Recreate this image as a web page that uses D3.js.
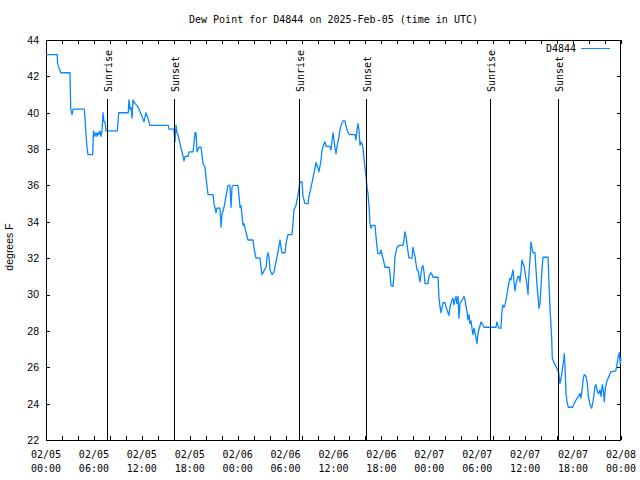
<!DOCTYPE html>
<html><head><meta charset="utf-8">
<script src="https://cdn.jsdelivr.net/npm/d3@7"></script>
<style>
body{margin:0;background:#fff;}
svg{display:block;}
</style></head>
<body>
<svg id="chart" width="640" height="480"></svg>
<script>
// ---- data (hours since 2025-02-05 00:00 UTC, dew point °F) ----
const titleText = "Dew Point for D4844 on 2025-Feb-05 (time in UTC)";
const yLabel = "degrees F";
const seriesName = "D4844";
const readings = [
[0.0,43.2],[1.41,43.2],[1.45,42.7],[1.84,42.2],[3.0,42.2],[3.1,40.2],[3.26,39.9],[3.4,40.2],[4.8,40.2],
[4.9,39.6],[5.0,38.8],[5.13,38.1],[5.26,37.7],[5.85,37.7],[5.95,39.0],[6.1,38.7],[6.26,38.9],[6.4,38.7],
[6.51,38.9],[6.64,38.8],[6.76,39.0],[6.89,38.7],[7.01,39.0],[7.14,40.0],[7.26,39.5],[7.4,39.5],[7.51,39.0],
[8.93,39.0],[9.02,39.5],[9.1,40.0],[10.3,40.0],[10.39,40.7],[10.52,40.2],[10.64,40.3],[10.77,39.7],[10.89,40.7],
[11.14,40.5],[11.39,40.4],[11.65,40.2],[11.77,40.05],[12.02,39.8],[12.27,39.5],[12.52,40.0],[12.77,39.7],[13.02,39.3],
[15.31,39.3],[15.4,39.1],[16.03,39.1],[16.15,38.4],[16.28,39.3],[16.4,38.9],[16.53,38.8],[16.78,38.3],[17.03,37.85],
[17.28,37.35],[17.41,37.6],[17.78,37.6],[17.91,37.85],[18.41,37.85],[18.53,38.3],[18.66,38.9],[18.78,38.9],[18.91,37.85],
[19.16,38.1],[19.41,38.1],[19.53,37.7],[19.66,37.2],[19.91,37.0],[20.04,36.4],[20.29,35.5],[20.91,35.5],[21.04,35.0],
[21.29,34.5],[21.41,34.75],[21.79,34.75],[21.91,33.7],[22.04,34.4],[22.29,34.8],[22.54,35.4],[22.79,36.0],[23.04,36.0],
[23.17,34.8],[23.29,35.9],[23.42,36.0],[24.04,36.0],[24.17,35.4],[24.29,34.8],[24.42,34.9],[24.54,34.4],[24.67,33.8],
[24.79,33.9],[25.04,33.45],[25.29,33.0],[25.92,33.0],[26.05,32.55],[26.3,32.0],[26.8,32.0],[26.92,31.5],[27.05,31.1],
[27.3,31.3],[27.55,31.5],[27.67,32.0],[27.8,32.3],[27.92,32.1],[28.05,31.35],[28.3,31.1],[28.55,31.25],[28.8,31.8],
[29.05,32.35],[29.18,32.7],[29.3,33.0],[29.43,32.6],[29.55,32.3],[29.93,32.3],[30.05,32.8],[30.3,33.3],[30.8,33.3],
[30.93,33.9],[31.05,34.65],[31.3,34.9],[31.43,35.2],[31.56,35.5],[31.68,35.85],[31.81,36.2],[32.06,36.2],[32.18,35.4],
[32.43,35.0],[32.81,35.0],[32.93,35.4],[33.18,35.9],[33.43,36.4],[33.68,36.95],[33.81,37.25],[34.06,36.95],[34.18,36.75],
[34.44,37.4],[34.56,37.95],[34.81,38.3],[34.94,38.4],[35.06,38.15],[35.56,38.15],[35.69,37.95],[35.94,38.9],[36.06,38.5],
[36.19,38.05],[36.31,37.75],[36.44,38.15],[36.69,38.7],[36.81,39.05],[36.94,39.3],[37.19,39.55],[37.44,39.55],[37.57,39.25],
[37.82,38.9],[38.07,38.8],[38.69,38.8],[38.82,38.5],[38.94,39.05],[39.07,39.4],[39.19,39.05],[39.32,38.2],[39.44,38.4],
[39.57,38.3],[39.69,38.05],[39.82,37.5],[39.94,36.95],[40.07,36.5],[40.2,35.9],[40.32,35.55],[40.45,34.85],[40.57,33.9],
[40.7,33.65],[40.82,33.8],[41.2,33.8],[41.32,33.2],[41.45,32.6],[41.57,32.25],[41.82,32.25],[41.95,32.45],[42.07,32.2],
[42.2,32.0],[42.45,31.5],[42.95,31.5],[43.08,31.15],[43.2,30.5],[43.45,30.45],[43.58,31.1],[43.7,32.1],[43.95,32.6],
[44.2,32.7],[44.7,32.7],[44.83,33.0],[44.95,33.45],[45.08,33.2],[45.2,32.8],[45.33,32.35],[45.45,32.0],[45.83,32.0],
[45.95,32.6],[46.08,32.3],[46.21,32.1],[46.33,31.7],[46.46,31.35],[46.58,31.35],[46.71,31.0],[46.83,30.7],[46.96,31.15],
[47.08,31.5],[47.2,31.6],[47.33,31.25],[47.46,30.6],[47.83,30.6],[47.96,31.0],[48.21,31.2],[48.33,31.1],[48.46,30.95],
[49.09,30.95],[49.21,29.8],[49.34,29.33],[49.46,29.0],[49.59,29.3],[49.71,29.55],[49.96,29.55],[50.09,29.3],[50.34,29.0],
[50.46,28.85],[50.59,29.33],[50.84,29.7],[50.96,29.8],[51.09,29.43],[51.21,29.7],[51.34,29.9],[51.46,29.5],[51.59,29.9],
[51.72,28.7],[51.84,29.5],[52.09,29.7],[52.34,29.9],[52.47,29.7],[52.59,29.33],[52.72,29.05],[52.84,28.6],[52.97,28.9],
[53.09,28.4],[53.22,28.55],[53.34,28.15],[53.47,27.8],[53.59,28.15],[53.72,27.9],[53.85,27.6],[53.97,27.3],[54.1,27.9],
[54.35,28.3],[54.47,28.5],[54.6,28.4],[54.85,28.2],[56.35,28.2],[56.47,28.5],[56.6,28.3],[56.72,28.15],[56.97,28.15],
[57.1,29.15],[57.22,29.43],[57.35,29.3],[57.48,29.43],[57.6,29.7],[57.73,30.03],[57.85,30.35],[57.98,30.7],[58.1,30.9],
[58.23,30.8],[58.35,31.1],[58.48,31.35],[58.6,30.7],[58.73,30.2],[58.85,30.6],[58.98,30.8],[59.1,31.0],[59.23,31.0],
[59.35,30.7],[59.48,31.25],[59.6,31.9],[59.73,31.7],[59.85,31.6],[60.1,30.9],[60.23,30.5],[60.36,30.0],[60.48,31.2],
[60.61,31.9],[60.73,32.9],[60.86,32.55],[60.98,32.3],[61.23,32.3],[61.36,31.35],[61.48,30.5],[61.61,29.9],[61.73,29.25],
[61.86,29.5],[61.98,30.45],[62.11,31.35],[62.23,32.05],[62.86,32.05],[63.11,29.25],[63.32,27.6],[63.4,26.5],[63.65,26.2],
[63.86,26.05],[64.07,25.85],[64.2,25.7],[64.36,25.1],[64.57,25.6],[64.7,26.05],[64.83,26.4],[64.9,26.75],[64.99,26.05],
[65.11,24.55],[65.28,24.0],[65.4,23.8],[65.95,23.8],[66.12,24.0],[66.37,24.2],[66.65,24.4],[66.87,24.55],[66.99,24.3],
[67.15,24.85],[67.28,25.4],[67.4,25.6],[67.62,25.5],[67.78,25.1],[67.91,24.4],[68.12,23.95],[68.33,23.75],[68.53,24.2],
[68.75,24.95],[68.87,25.05],[69.0,24.75],[69.16,24.55],[69.37,24.75],[69.5,24.4],[69.66,25.05],[69.78,24.75],[69.91,24.1],
[70.04,24.85],[70.21,25.2],[70.34,25.35],[70.5,25.5],[70.71,25.75],[71.34,25.8],[71.46,26.05],[71.66,26.6],[71.79,26.8],
[71.91,26.2],[72.0,26.5]
];
const sunriseHours = [7.68, 31.72, 55.64];
const sunsetHours = [16.07, 40.11, 64.15];
const xLabelHours = [0,6,12,18,24,30,36,42,48,54,60,66,72];
const xLabelDates = ["02/05","02/05","02/05","02/05","02/06","02/06","02/06","02/06","02/07","02/07","02/07","02/07","02/08"];
const xLabelTimes = ["00:00","06:00","12:00","18:00","00:00","06:00","12:00","18:00","00:00","06:00","12:00","18:00","00:00"];
const xMinorHours = d3.range(0, 73, 2);
const yTicks = [22,24,26,28,30,32,34,36,38,40,42,44];

// ---- layout ----
const L = 46, R = 621, T = 40, B = 440;
const mono = "'DejaVu Sans Mono', monospace";
const sans = "'Liberation Sans', Arial, sans-serif";
const lineColor = "#0a86ff";

const svg = d3.select("#chart");
const x = d3.scaleLinear().domain([0, 72]).range([L, R]);
const y = d3.scaleLinear().domain([22, 44]).range([B, T]);

// title
svg.append("text").attr("x", (L + R) / 2).attr("y", 23)
  .attr("text-anchor", "middle").attr("font-family", mono).attr("font-size", 10)
  .text(titleText);

// axes (inward ticks, mirrored)
function styleAxis(g) {
  g.selectAll(".domain").remove();
  g.selectAll("line").attr("stroke", "#000").attr("shape-rendering", "crispEdges");
}
svg.append("g").attr("transform", `translate(0,${B})`)
  .call(d3.axisBottom(x).tickValues(xMinorHours).tickSize(-4).tickFormat(""))
  .call(styleAxis);
svg.append("g").attr("transform", `translate(0,${T})`)
  .call(d3.axisTop(x).tickValues(xMinorHours).tickSize(-4).tickFormat(""))
  .call(styleAxis);
const yl = svg.append("g").attr("transform", `translate(${L},0)`)
  .call(d3.axisLeft(y).tickValues(yTicks).tickSize(-4).tickPadding(7).tickFormat(d3.format("d")))
  .call(styleAxis);
yl.selectAll("text").attr("font-family", sans).attr("font-size", 10.5).attr("fill", "#000");
svg.append("g").attr("transform", `translate(${R},0)`)
  .call(d3.axisRight(y).tickValues(yTicks).tickSize(-4).tickFormat(""))
  .call(styleAxis);

// x labels (two lines)
const xl = svg.append("g").attr("font-family", mono).attr("font-size", 10).attr("text-anchor", "middle");
xLabelHours.forEach((h, i) => {
  xl.append("text").attr("x", x(h)).attr("y", 458).text(xLabelDates[i]);
  xl.append("text").attr("x", x(h)).attr("y", 472).text(xLabelTimes[i]);
});

// y label
svg.append("text").attr("transform", `translate(13,247) rotate(-90)`)
  .attr("text-anchor", "middle").attr("font-family", sans).attr("font-size", 10.5)
  .text(yLabel);

// frame
svg.append("rect").attr("x", L + 0.5).attr("y", T + 0.5).attr("width", R - L - 1).attr("height", B - T)
  .attr("fill", "none").attr("stroke", "#000").attr("shape-rendering", "crispEdges");

// data line
const line = d3.line().x(d => x(d[0])).y(d => y(d[1]));
svg.append("path").datum(readings).attr("d", line)
  .attr("fill", "none").attr("stroke", lineColor).attr("stroke-width", 1.3)
  .attr("stroke-linejoin", "round");

// sun events
const sunEvents = sunriseHours.map(h => ({h, label: "Sunrise"}))
  .concat(sunsetHours.map(h => ({h, label: "Sunset"})));
const sg = svg.append("g");
sunEvents.forEach(e => {
  const xp = Math.round(x(e.h)) + 0.5;
  sg.append("line").attr("x1", xp).attr("x2", xp).attr("y1", 99).attr("y2", B)
    .attr("stroke", "#000").attr("stroke-width", 1).attr("shape-rendering", "crispEdges");
  sg.append("text").attr("transform", `translate(${xp + 4},92) rotate(-90)`)
    .attr("font-family", mono).attr("font-size", 10).attr("text-anchor", "start")
    .text(e.label);
});

// legend
svg.append("text").attr("x", 576).attr("y", 52).attr("text-anchor", "end")
  .attr("font-family", mono).attr("font-size", 10).text(seriesName);
svg.append("line").attr("x1", 581).attr("x2", 610).attr("y1", 48.5).attr("y2", 48.5)
  .attr("stroke", lineColor).attr("stroke-width", 1);
</script>
</body></html>
